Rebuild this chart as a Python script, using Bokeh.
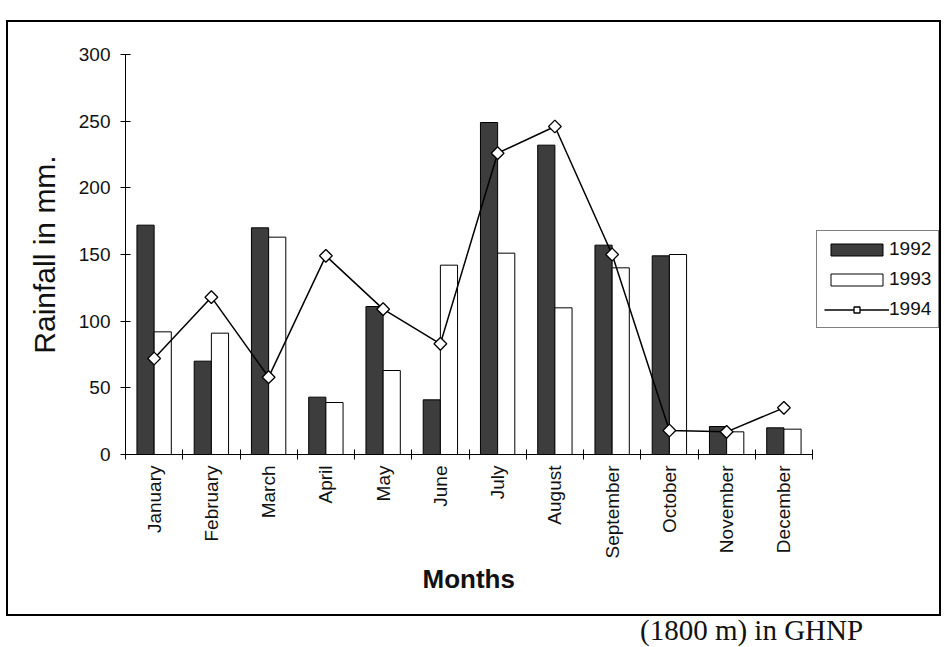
import math

from bokeh.embed import file_html
from bokeh.layouts import column
from bokeh.models import (ColumnDataSource, Div, FixedTicker, Legend,
                          LegendItem, Range1d, Title)
from bokeh.plotting import figure
from bokeh.resources import INLINE
from bokeh.transform import dodge

# Monthly rainfall (mm) for three years
months = ["January", "February", "March", "April", "May", "June",
          "July", "August", "September", "October", "November", "December"]
rain_1992 = [172, 70, 170, 43, 111, 41, 249, 232, 157, 149, 21, 20]
rain_1993 = [92, 91, 163, 39, 63, 142, 151, 110, 140, 150, 17, 19]
rain_1994 = [72, 118, 58, 149, 109, 83, 226, 246, 150, 18, 17, 35]
y_ticks = [0, 50, 100, 150, 200, 250, 300]

FONT = "Liberation Sans"
INK = "#111111"
X_MAX = 14.218  # extra room right of December for the legend

month_pos = [i + 0.5 for i in range(len(months))]
src = ColumnDataSource(dict(x=month_pos, r1992=rain_1992,
                            r1993=rain_1993, r1994=rain_1994))

# the figure itself is the boxed panel; the caption sits under it
p = figure(width=931, height=592, output_backend="svg", toolbar_location=None,
           x_range=Range1d(0, X_MAX), y_range=Range1d(0, 300),
           min_border_left=117, min_border_right=0,
           min_border_top=32, min_border_bottom=160,
           margin=(22, 0, 0, 8),
           styles={"outline": "2.5px solid black"})
p.background_fill_color = "white"
p.border_fill_color = "white"
p.outline_line_color = None
p.grid.grid_line_color = None

# bars: 1992 dark, 1993 open
r92 = p.vbar(x=dodge("x", -0.15, range=p.x_range), top="r1992", width=0.3,
             source=src, fill_color="#3d3d3d", line_color="black", line_width=1)
r93 = p.vbar(x=dodge("x", 0.15, range=p.x_range), top="r1993", width=0.3,
             source=src, fill_color="white", line_color="black", line_width=1)
# 1994 as a line with open diamonds
r94l = p.line("x", "r1994", source=src, line_color="black", line_width=1.5)
r94m = p.scatter("x", "r1994", source=src, marker="square", angle=math.pi / 4,
                 size=9, fill_color="white", line_color="black", line_width=1.3)

# x axis: month names centred, cross ticks on the month boundaries
xa = p.xaxis[0]
xa.ticker = FixedTicker(ticks=month_pos, minor_ticks=list(range(len(months) + 1)))
xa.bounds = (0, len(months))
xa.major_label_overrides = {x: m for x, m in zip(month_pos, months)}
xa.major_label_orientation = math.pi / 2
xa.major_tick_in = 0
xa.major_tick_out = 0
xa.minor_tick_in = 5
xa.minor_tick_out = 5
xa.minor_tick_line_color = "black"
xa.major_label_standoff = 6
xa.major_label_text_font = FONT
xa.major_label_text_font_size = "19px"
xa.major_label_text_color = INK
xa.axis_line_color = "black"

# y axis
ya = p.yaxis[0]
ya.ticker = FixedTicker(ticks=y_ticks)
ya.minor_tick_line_color = None
ya.major_tick_in = 5
ya.major_tick_out = 5
ya.major_tick_line_color = "black"
ya.major_label_standoff = 10
ya.major_label_text_font = FONT
ya.major_label_text_font_size = "19px"
ya.major_label_text_color = INK
ya.axis_line_color = "black"
ya.axis_label = "Rainfall in mm."
ya.axis_label_text_font = FONT
ya.axis_label_text_font_size = "30px"
ya.axis_label_text_font_style = "normal"
ya.axis_label_text_color = INK
ya.axis_label_standoff = 15

# x axis title, centred under the twelve months (not under the legend gap)
p.add_layout(Title(text="Months", align="left", offset=297, standoff=0,
                   text_font=FONT, text_font_size="26px",
                   text_font_style="bold", text_color=INK), "below")

legend = Legend(items=[LegendItem(label="1992", renderers=[r92]),
                       LegendItem(label="1993", renderers=[r93]),
                       LegendItem(label="1994", renderers=[r94l, r94m])],
                location=(691, 126), glyph_width=65, glyph_height=15,
                label_standoff=0, spacing=8, padding=7,
                label_text_font=FONT, label_text_font_size="19px",
                label_text_color=INK, border_line_color="black",
                border_line_width=1.2, background_fill_color="white",
                background_fill_alpha=1)
p.add_layout(legend)

caption = Div(text="(1800 m) in GHNP", width=300, margin=(2, 0, 0, 640),
              styles={"font-family": "Liberation Serif", "font-size": "29px",
                      "color": INK, "line-height": "1"})

page = column(p, caption, spacing=0)
open("out.html", "w").write(file_html(page, INLINE))
